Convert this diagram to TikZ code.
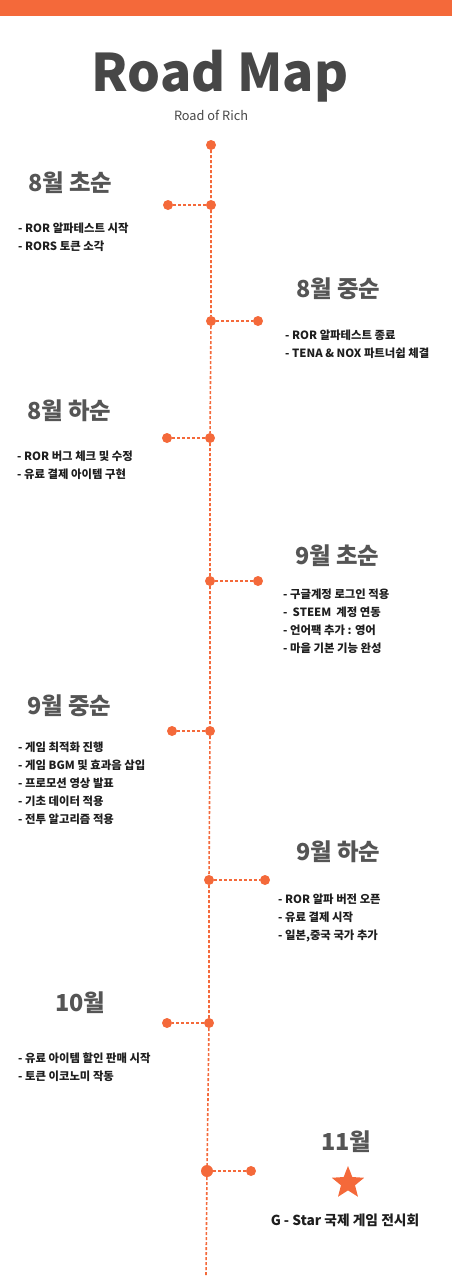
\documentclass[tikz,border=0pt]{standalone}
\usepackage{fontspec}
\setmainfont{Noto Sans CJK KR}
\usetikzlibrary{shapes.geometric}
\definecolor{road}{HTML}{F4693A}
\definecolor{headgray}{HTML}{555555}
\definecolor{titlegray}{HTML}{474747}
\definecolor{itemblack}{HTML}{1E1E1E}

\begin{document}
\begin{tikzpicture}[x=1bp,y=-1bp,
  dot/.style={circle,fill=road,inner sep=0pt,minimum size=10bp},
  link/.style={road,line width=1.6bp,dash pattern=on 3bp off 2bp},
  month/.style={anchor=west,text=headgray,inner sep=0pt,font=\fontsize{23.5}{23.5}\selectfont\bfseries},
  items/.style={anchor=north west,align=left,inner sep=0pt,text=itemblack,font=\fontsize{11.4}{18}\selectfont\bfseries}]
  \useasboundingbox (0,0) rectangle (452,1280);
  \fill[road] (0,0) rectangle (452,16);

  % title
  \node[titlegray,font=\fontsize{52}{52}\selectfont\bfseries] (title) at (220,76) {Road Map};
  \node[titlegray,font=\fontsize{12.8}{12.8}\selectfont] (sub) at (211,115) {Road of Rich};

  % timeline dots and side links
  \node[dot] (t0) at (211,145) {};
  \foreach \n/\mx/\sx/\y/\d in {1/211/168/205/10, 2/211/258/321/10, 3/210/167/438/10,
      4/210/258/581/10, 5/210/172/731/10, 6/209/265/880/10, 7/209/167/1023/10, 8/207/251/1171/12} {
    \node[dot,minimum size=\d bp] (m\n) at (\mx,\y) {};
    \node[dot] (s\n) at (\sx,\y) {};
    \draw[link] (m\n) -- (s\n);
  }
  \coordinate (tend) at (206,1275);
  \draw[link] (t0) -- (m1) -- (m2) -- (m3) -- (m4) -- (m5) -- (m6) -- (m7) -- (m8) -- (tend);

  % months
  \node[month] (h1) at (28,183) {8월 초순};
  \node[month] (h2) at (296,289) {8월 중순};
  \node[month] (h3) at (27,411) {8월 하순};
  \node[month] (h4) at (295,556) {9월 초순};
  \node[month] (h5) at (27,706) {9월 중순};
  \node[month] (h6) at (296,852) {9월 하순};
  \node[month] (h7) at (55,1003) {10월};
  \node[month] (h8) at (321,1142) {11월};

  % tasks
  \node[items] (l1) at (18,223) {- ROR 알파테스트 시작\\- RORS 토큰 소각};
  \node[items] (l2) at (285,330) {- ROR 알파테스트 종료\\- TENA \& NOX 파트너쉽 체결};
  \node[items] (l3) at (17,451) {- ROR 버그 체크 및 수정\\- 유료 결제 아이템 구현};
  \node[items] (l4) at (283,589) {- 구글계정 로그인 적용\\-~ STEEM~ 계정 연동\\- 언어팩 추가 : 영어\\- 마을 기본 기능 완성};
  \node[items] (l5) at (18,742) {- 게임 최적화 진행\\- 게임 BGM 및 효과음 삽입\\- 프로모션 영상 발표\\- 기초 데이터 적용\\- 전투 알고리즘 적용};
  \node[items] (l6) at (278,894) {- ROR 알파 버전 오픈\\- 유료 결제 시작\\- 일본,중국 국가 추가};
  \node[items] (l7) at (18,1053) {- 유료 아이템 할인 판매 시작\\- 토큰 이코노미 작동};

  % finale
  \node[star,star points=5,star point ratio=2.3,fill=road,inner sep=0pt,minimum size=34bp] (star) at (348,1183) {};
  \node[itemblack,font=\fontsize{13.8}{13.8}\selectfont\bfseries] (gstar) at (345,1220) {G - Star 국제 게임 전시회};
\end{tikzpicture}
\end{document}
